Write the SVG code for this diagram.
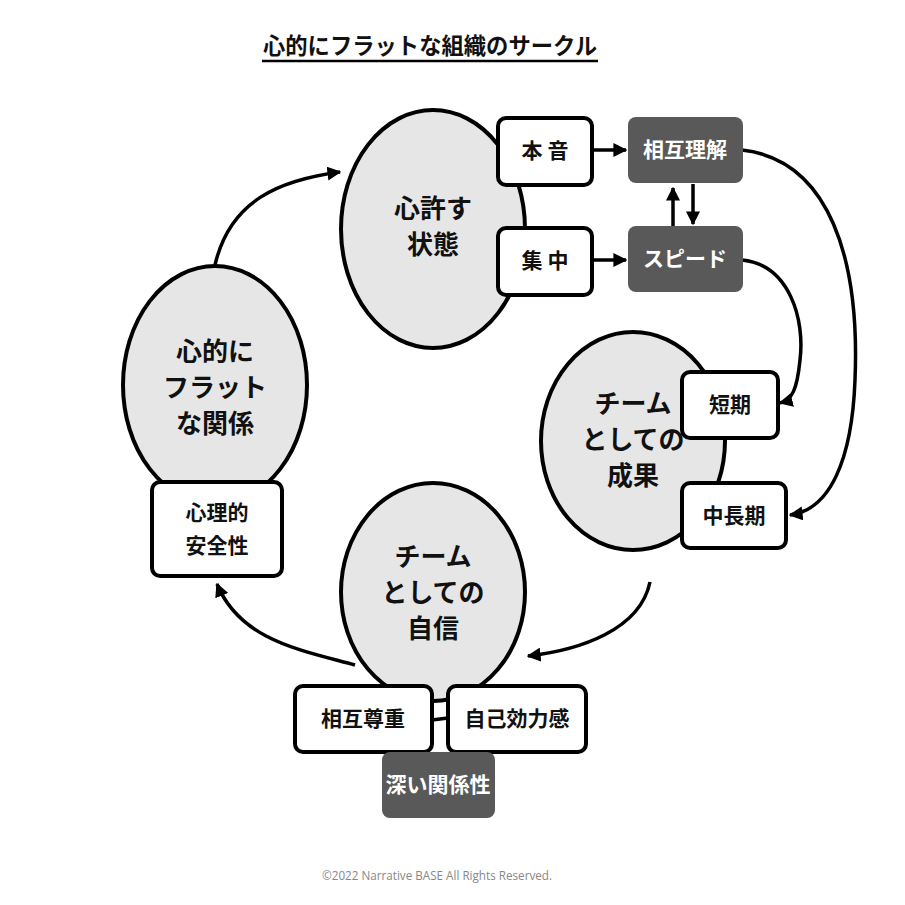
<svg xmlns="http://www.w3.org/2000/svg" width="905" height="905" viewBox="0 0 905 905">
<style>
text{font-family:"Noto Sans CJK JP","Liberation Sans",sans-serif;font-weight:bold;text-anchor:middle;fill:#111}
.el{fill:#e6e6e6;stroke:#000;stroke-width:4}
.bx{fill:#fff;stroke:#000;stroke-width:4}
.dk{fill:#595959;stroke:none}
.wt{fill:#fff}
.c{fill:none;stroke:#000;stroke-width:3.5}
.t{font-size:21px}
.b{font-size:26px}
</style>
<defs><marker id="ah" viewBox="0 0 10 10" refX="9" refY="5" markerWidth="4" markerHeight="4" orient="auto"><path d="M0,0L10,5L0,10z" fill="#000"/></marker></defs>
<rect width="905" height="905" fill="#fff"/>
<text x="430" y="54" font-size="23" textLength="334" lengthAdjust="spacingAndGlyphs">心的にフラットな組織のサークル</text>
<line x1="262" y1="61" x2="598" y2="61" stroke="#000" stroke-width="2.5"/>
<g id="connectors">
<path class="c" d="M592,150H626" marker-end="url(#ah)"/>
<path class="c" d="M592,260H626" marker-end="url(#ah)"/>
<path class="c" d="M673,226V188" marker-end="url(#ah)"/>
<path class="c" d="M693,184V224" marker-end="url(#ah)"/>
<path class="c" d="M742,150C830,160 860,260 855,380C852,460 830,510 790,515" marker-end="url(#ah)"/>
<path class="c" d="M742,260C790,265 805,320 800,360C797,390 792,400 780,403" marker-end="url(#ah)"/>
<path class="c" d="M650,582C640,630 580,650 528,656" marker-end="url(#ah)"/>
<path class="c" d="M355,665C300,650 240,640 217,584" marker-end="url(#ah)"/>
<path class="c" d="M215,265C230,200 280,180 340,172" marker-end="url(#ah)"/>
<line x1="432" y1="720" x2="448" y2="718" stroke="#000" stroke-width="3.5"/>
</g>
<g id="n-kokoro"><ellipse class="el" cx="433" cy="229" rx="92" ry="119"/><text class="b" x="433" y="218">心許す</text><text class="b" x="433" y="254">状態</text></g>
<g id="n-flat"><ellipse class="el" cx="215" cy="385" rx="92" ry="119"/><text class="b" x="215" y="361">心的に</text><text class="b" x="215" y="397">フラット</text><text class="b" x="215" y="433">な関係</text></g>
<g id="n-seika"><ellipse class="el" cx="633" cy="441" rx="92" ry="109"/><text class="b" x="633" y="413">チーム</text><text class="b" x="633" y="449">としての</text><text class="b" x="633" y="485">成果</text></g>
<g id="n-jishin"><ellipse class="el" cx="433" cy="592" rx="92" ry="109"/><text class="b" x="433" y="566">チーム</text><text class="b" x="433" y="602">としての</text><text class="b" x="433" y="638">自信</text></g>
<g id="n-honne"><rect class="bx" x="498" y="118" width="94" height="67" rx="8"/><text class="t" x="545" y="158">本 音</text></g>
<g id="n-shuchu"><rect class="bx" x="498" y="228" width="94" height="67" rx="8"/><text class="t" x="545" y="268">集 中</text></g>
<g id="n-sogo"><rect class="dk" x="628" y="117" width="115" height="66" rx="8"/><text class="t wt" x="685" y="157">相互理解</text></g>
<g id="n-speed"><rect class="dk" x="628" y="226" width="115" height="66" rx="8"/><text class="t wt" x="685" y="266">スピード</text></g>
<g id="n-tanki"><rect class="bx" x="682" y="372" width="96" height="66" rx="8"/><text class="t" x="730" y="412">短期</text></g>
<g id="n-chuchoki"><rect class="bx" x="682" y="483" width="104" height="65" rx="8"/><text class="t" x="734" y="523">中長期</text></g>
<g id="n-anzen"><rect class="bx" x="152" y="482" width="130" height="94" rx="8"/><text class="t" x="217" y="520">心理的</text><text class="t" x="217" y="553">安全性</text></g>
<g id="n-sonchou"><rect class="bx" x="295" y="686" width="137" height="66" rx="8"/><text class="t" x="363" y="726">相互尊重</text></g>
<g id="n-koryoku"><rect class="bx" x="448" y="686" width="138" height="66" rx="8"/><text class="t" x="517" y="726">自己効力感</text></g>
<g id="n-fukai"><rect class="dk" x="382" y="752" width="113" height="66" rx="8"/><text class="t wt" x="438" y="792">深い関係性</text></g>
<text x="437" y="880" font-size="13" textLength="230" lengthAdjust="spacingAndGlyphs" style="font-weight:normal;fill:#888;font-family:'Open Sans','Liberation Sans',sans-serif">©2022 Narrative BASE All Rights Reserved.</text>
</svg>
